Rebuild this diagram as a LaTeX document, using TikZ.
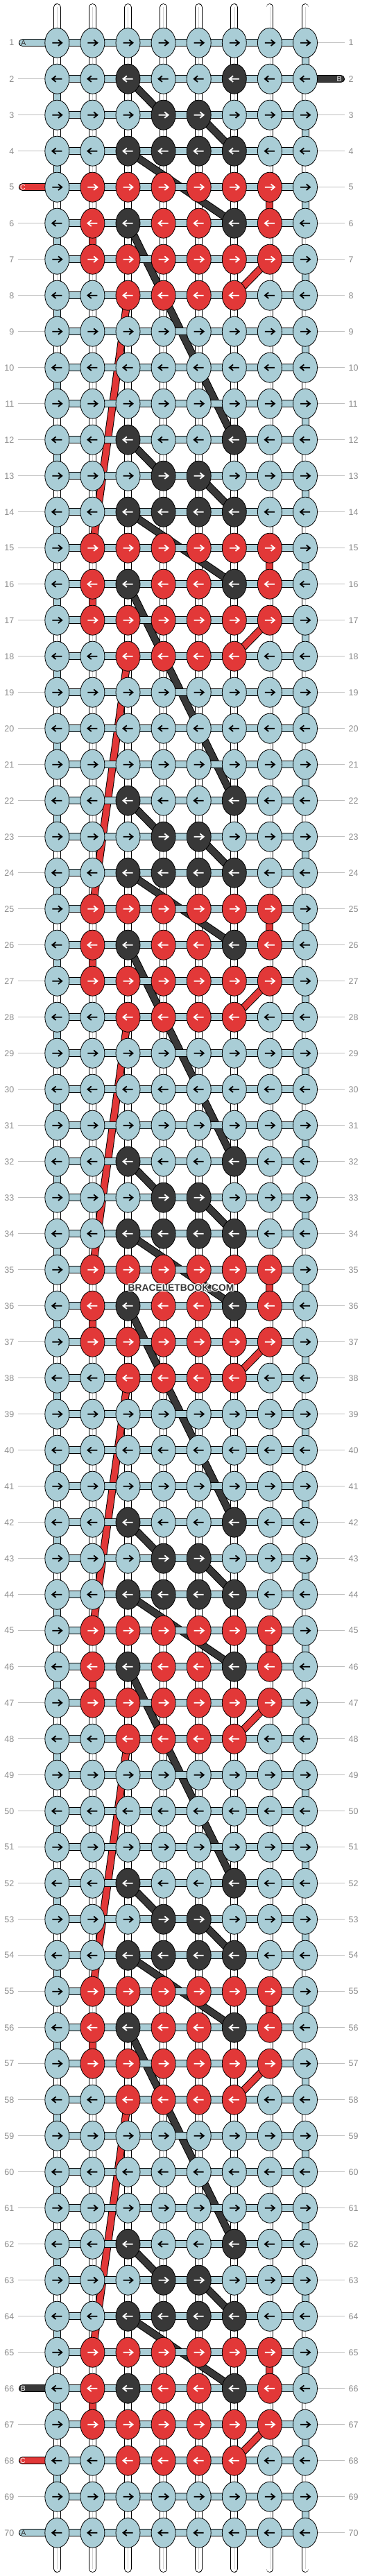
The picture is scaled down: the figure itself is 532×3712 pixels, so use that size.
\documentclass[tikz,border=0pt]{standalone}
\usepackage{fontspec}
\setmainfont{Liberation Sans}
\usetikzlibrary{shapes.geometric}

\definecolor{cA}{RGB}{169,205,214}
\definecolor{cB}{RGB}{56,56,56}
\definecolor{cC}{RGB}{226,56,56}

\pgfdeclarelayer{base}
\pgfdeclarelayer{thread}
\pgfdeclarelayer{bar}
\pgfsetlayers{base,thread,bar,main}

\tikzset{
  knot/.style={ellipse, draw=black, line width=0.8pt, minimum width=35pt,
    minimum height=43pt, inner sep=0pt},
  glyph/.style={line width=1.8pt, line join=miter},
  basestr/.style={draw=black, line width=0.9pt, double=white,
    double distance=9pt, line cap=round},
  strand/.style={draw=black, line width=1pt, double=#1, double distance=9pt},
  tag/.style={font=\fontsize{10.5pt}{10.5pt}\selectfont, inner sep=0pt},
  rownum/.style={font=\fontsize{12.5pt}{12.5pt}\selectfont, text=black!45,
    inner xsep=5.5pt, inner ysep=0pt},
  rowline/.style={draw=black!25, line width=0.9pt},
  wmtext/.style={font=\fontsize{13.8pt}{14pt}\selectfont\bfseries, inner sep=0pt}
}

\begin{document}
\begin{tikzpicture}[x=1pt, y=-1pt]
  \useasboundingbox (0,0) rectangle (532,3712);

  % knots, row by row
  \foreach \r in {1,...,70} {
    \pgfmathsetmacro\y{61.7+(\r-1)*52}
    \pgfmathtruncatemacro\m{mod(\r,10)}
    \pgfmathtruncatemacro\dir{ifthenelse(mod(\r,2)==1,1,-1)}
    \ifcase\m \def\cols{A,A,A,A,A,A,A,A}
    \or \def\cols{A,A,A,A,A,A,A,A}
    \or \def\cols{A,A,B,A,A,B,A,A}
    \or \def\cols{A,A,A,B,B,A,A,A}
    \or \def\cols{A,A,B,B,B,B,A,A}
    \or \def\cols{A,C,C,C,C,C,C,A}
    \or \def\cols{A,C,B,C,C,B,C,A}
    \or \def\cols{A,C,C,C,C,C,C,A}
    \or \def\cols{A,A,C,C,C,C,A,A}
    \else \def\cols{A,A,A,A,A,A,A,A}
    \fi
    \foreach \col [count=\c] in \cols {
      \pgfmathsetmacro\x{82.3+(\c-1)*51.1}
      \def\gc{white}\if\col A\def\gc{black}\fi
      \node[knot, fill=c\col] (k-\r-\c) at (\x,\y) {};
      \draw[glyph, draw=\gc, shift={(k-\r-\c)}, xscale=\dir]
        (-7,0) -- (7,0) (1.7,-4.3) -- (7,0) -- (1.7,4.3);
    }
    \node[rownum, anchor=east] (nl-\r) at (26,\y) {\r};
    \node[rownum, anchor=west] (nr-\r) at (497,\y) {\r};
  }

  % row number lines
  \foreach \r in {2,3,4,6,7,...,65,67,69}
    \draw[rowline] (nl-\r) -- (k-\r-1);
  \foreach \r in {1,3,4,...,70}
    \draw[rowline] (k-\r-8) -- (nr-\r);

  % white base strings
  \begin{pgfonlayer}{base}
    \foreach \c in {1,...,8} {
      \pgfmathsetmacro\x{82.3+(\c-1)*51.1}
      \coordinate (top-\c) at (\x,10.5);
      \coordinate (bot-\c) at (\x,3701.5);
      \draw[basestr] (top-\c) -- (bot-\c);
      \draw[line width=0.6pt, black!18] (top-\c) -- (bot-\c);
    }
  \end{pgfonlayer}

  % B and C threads
  \begin{pgfonlayer}{thread}
    \foreach \k in {0,10,...,60}
      \foreach \ra/\ca/\rb/\cb/\col in {2/3/3/4/cB, 3/5/4/6/cB, 4/3/6/6/cB,
          5/7/6/7/cC, 6/2/7/2/cC, 7/7/8/6/cC} {
        \pgfmathtruncatemacro\p{\k+\ra}
        \pgfmathtruncatemacro\q{\k+\rb}
        \draw[strand=\col] (k-\p-\ca.center) -- (k-\q-\cb.center);
      }
    \foreach \k in {0,10,...,50}
      \foreach \ra/\ca/\rb/\cb/\col in {6/3/12/6/cB, 8/3/15/2/cC} {
        \pgfmathtruncatemacro\p{\k+\ra}
        \pgfmathtruncatemacro\q{\k+\rb}
        \draw[strand=\col] (k-\p-\ca.center) -- (k-\q-\cb.center);
      }
  \end{pgfonlayer}

  % A thread: rows and turns, loose ends
  \begin{pgfonlayer}{bar}
    \foreach \r in {1,...,70}
      \draw[strand=cA] (k-\r-1.center) -- (k-\r-8.center);
    \foreach \r in {1,3,...,69} {
      \pgfmathtruncatemacro\s{\r+1}
      \draw[strand=cA] (k-\r-8.center) -- (k-\s-8.center);
    }
    \foreach \r in {2,4,...,68} {
      \pgfmathtruncatemacro\s{\r+1}
      \draw[strand=cA] (k-\r-1.center) -- (k-\s-1.center);
    }

    \coordinate (A-in) at (32.5,61.7);
    \coordinate (B-in) at (491.5,113.7);
    \coordinate (C-in) at (32.5,269.7);
    \coordinate (B-out) at (32.5,3441.7);
    \coordinate (C-out) at (32.5,3545.7);
    \coordinate (A-out) at (32.5,3649.7);
    \draw[strand=cA, line cap=round] (A-in) -- (k-1-1.center);
    \draw[strand=cB, line cap=round] (k-2-8.center) -- (B-in);
    \draw[strand=cC, line cap=round] (C-in) -- (k-5-1.center);
    \draw[strand=cB, line cap=round] (B-out) -- (k-66-1.center);
    \draw[strand=cC, line cap=round] (C-out) -- (k-68-1.center);
    \draw[strand=cA, line cap=round] (A-out) -- (k-70-1.center);
  \end{pgfonlayer}

  \node[tag, text=black!80] (tA-in) at (34,61.7) {A};
  \node[tag, text=white] (tB-in) at (489,113.7) {B};
  \node[tag, text=white] (tC-in) at (33,269.7) {C};
  \node[tag, text=white] (tB-out) at (33.5,3441.7) {B};
  \node[tag, text=white] (tC-out) at (33,3545.7) {C};
  \node[tag, text=black!80] (tA-out) at (34,3649.7) {A};

  % watermark
  \foreach \dx/\dy in {-1.2/0, 1.2/0, 0/-1.2, 0/1.2, -.8/-.8, .8/.8, -.8/.8, .8/-.8}
    \node[wmtext, text=white] at (261+\dx,1856+\dy) {BRACELETBOOK.COM};
  \node[wmtext, text=black!78] (wm) at (261,1856) {BRACELETBOOK.COM};
\end{tikzpicture}
\end{document}
